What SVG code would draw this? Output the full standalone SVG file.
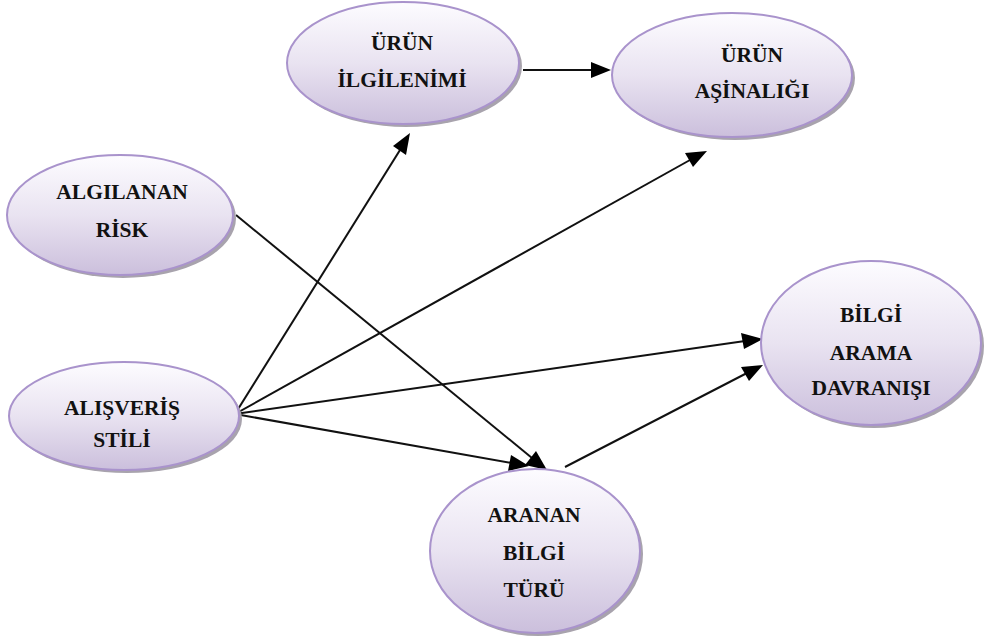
<svg xmlns="http://www.w3.org/2000/svg" width="986" height="642" viewBox="0 0 986 642">
  <defs>
    <linearGradient id="fillGrad" x1="0" y1="0" x2="0" y2="1">
      <stop offset="0" stop-color="#fdfcff"/>
      <stop offset="0.5" stop-color="#e9e3f1"/>
      <stop offset="1" stop-color="#cbbfdc"/>
    </linearGradient>
  </defs>
  <style>
    .shadow { fill: #a8a3ad; }
    .bubble { fill: url(#fillGrad); stroke: #a993cc; stroke-width: 2; }
    .label { font-family: "Liberation Serif", "Times New Roman", "DejaVu Serif", serif; font-weight: bold; font-size: 21.5px; fill: #111; text-anchor: middle; }
    .edge { stroke: #111; stroke-width: 2; fill: none; }
    .head { fill: #000; }
  </style>
  <rect width="986" height="642" fill="#fff"/>

  <g id="edges">
    <line class="edge" x1="523" y1="70" x2="595" y2="70"/>
    <path class="head" d="M611,70 L591,62 L591,78 z"/>
    <line class="edge" x1="236" y1="215" x2="532" y2="458"/>
    <path class="head" d="M547,470 L525,465 L536,451 z"/>
    <line class="edge" x1="235" y1="414" x2="400" y2="150"/>
    <path class="head" d="M410,133 L406,155 L393,146 z"/>
    <line class="edge" x1="235" y1="414" x2="690" y2="160"/>
    <path class="head" d="M707,151 L693,167 L685,153 z"/>
    <line class="edge" x1="235" y1="414" x2="745" y2="341"/>
    <path class="head" d="M763,339 L744,349 L741,333 z"/>
    <line class="edge" x1="235" y1="414" x2="512" y2="463"/>
    <path class="head" d="M529,466 L508,471 L511,455 z"/>
    <line class="edge" x1="565" y1="467" x2="747" y2="373"/>
    <path class="head" d="M763,365 L749,381 L741,367 z"/>
  </g>

  <g id="node-urun-ilgilenimi">
    <ellipse class="shadow" cx="406" cy="66" rx="116" ry="61"/>
    <ellipse class="bubble" cx="403" cy="63" rx="116" ry="61"/>
    <text class="label" x="402" y="50">ÜRÜN</text>
    <text class="label" x="402" y="87">İLGİLENİMİ</text>
  </g>

  <g id="node-urun-asinaligi">
    <ellipse class="shadow" cx="735" cy="78" rx="120" ry="62"/>
    <ellipse class="bubble" cx="732" cy="75" rx="120" ry="62"/>
    <text class="label" x="752" y="62">ÜRÜN</text>
    <text class="label" x="752" y="98">AŞİNALIĞI</text>
  </g>

  <g id="node-algilanan-risk">
    <ellipse class="shadow" cx="123" cy="218" rx="113" ry="60"/>
    <ellipse class="bubble" cx="120" cy="215" rx="113" ry="60"/>
    <text class="label" x="122" y="199">ALGILANAN</text>
    <text class="label" x="122" y="237">RİSK</text>
  </g>

  <g id="node-alisveris-stili">
    <ellipse class="shadow" cx="127" cy="419" rx="115" ry="54"/>
    <ellipse class="bubble" cx="124" cy="416" rx="115" ry="54"/>
    <text class="label" x="122" y="415">ALIŞVERİŞ</text>
    <text class="label" x="122" y="447">STİLİ</text>
  </g>

  <g id="node-aranan-bilgi-turu">
    <ellipse class="shadow" cx="538" cy="554" rx="105" ry="82"/>
    <ellipse class="bubble" cx="535" cy="551" rx="105" ry="82"/>
    <text class="label" x="534" y="522">ARANAN</text>
    <text class="label" x="534" y="560">BİLGİ</text>
    <text class="label" x="534" y="597">TÜRÜ</text>
  </g>

  <g id="node-bilgi-arama-davranisi">
    <ellipse class="shadow" cx="874" cy="346" rx="110" ry="82"/>
    <ellipse class="bubble" cx="871" cy="343" rx="110" ry="82"/>
    <text class="label" x="871" y="322">BİLGİ</text>
    <text class="label" x="871" y="360">ARAMA</text>
    <text class="label" x="871" y="395">DAVRANIŞI</text>
  </g>
</svg>
